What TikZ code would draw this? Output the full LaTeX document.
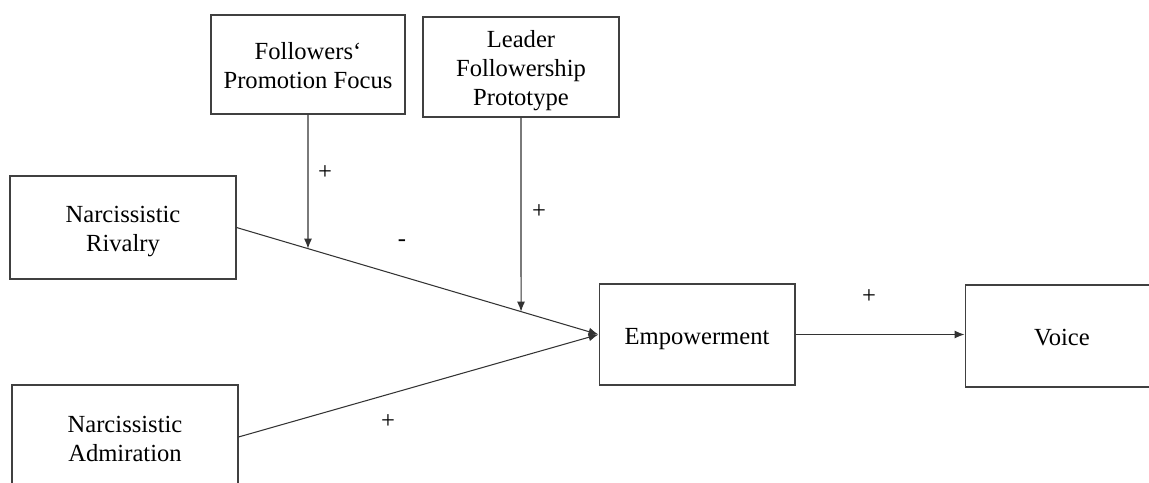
\documentclass[tikz,border=0pt]{standalone}
\usepackage{fontspec}
\setmainfont{Liberation Serif}
\usetikzlibrary{arrows.meta}
\newcommand{\boxlines}[1]{\raisebox{-0.08cm}[\height][\depth]{\begin{tabular}{@{}c@{}}#1\end{tabular}}}
\begin{document}
\begin{tikzpicture}[>={Latex[length=0.2cm,width=0.16cm]},x=0.02cm,y=-0.02cm,
	box/.style={draw=black!75,line width=0.6pt,inner sep=0pt,font=\fontsize{14}{16.5}\selectfont},
	link/.style={draw=black!80,line width=0.6pt},
	sign/.style={font=\fontsize{14}{16}\selectfont,inner sep=0pt}]
	\clip (0,0) rectangle (1149,483);
	% boxes
	\node[box,minimum width=4.52cm,minimum height=2.06cm] (riv) at (123,227.5) {\boxlines{Narcissistic\\Rivalry}};
	\node[box,minimum width=4.52cm,minimum height=2.08cm] (adm) at (125,437) {\boxlines{Narcissistic\\Admiration}};
	\node[box,minimum width=3.88cm,minimum height=1.98cm] (fol) at (308,64.5) {\boxlines{Followers‘\\Promotion Focus}};
	\node[box,minimum width=3.92cm,minimum height=2.00cm] (lead) at (521,67) {\boxlines{Leader\\Followership\\Prototype}};
	\node[box,minimum width=3.92cm,minimum height=2.02cm] (emp) at (697,334.5) {\boxlines{Empowerment}};
	\node[box,minimum width=3.88cm,minimum height=2.04cm] (voice) at (1062,336) {\boxlines{Voice}};
	% paths
	\draw[link,->] (riv.east) -- (emp.west);
	\draw[link,->] (adm.east) -- (emp.west);
	\draw[link,->] (emp.east) -- (emp.east -| voice.west);
	\coordinate (m1) at (intersection of fol.south--fol.center and riv.east--emp.west);
	\coordinate (m2) at (intersection of lead.south--lead.center and riv.east--emp.west);
	\draw[link,->] (fol.south) -- (m1);
	\draw[link,->] (lead.south) -- (m2);
	% signs
	\node[sign] (s1) at (325,173) {+};
	\node[sign] (s2) at (402,243) {-};
	\node[sign] (s3) at (539,212) {+};
	\node[sign] (s4) at (869,297) {+};
	\node[sign] (s5) at (388,422) {+};
\end{tikzpicture}
\end{document}
